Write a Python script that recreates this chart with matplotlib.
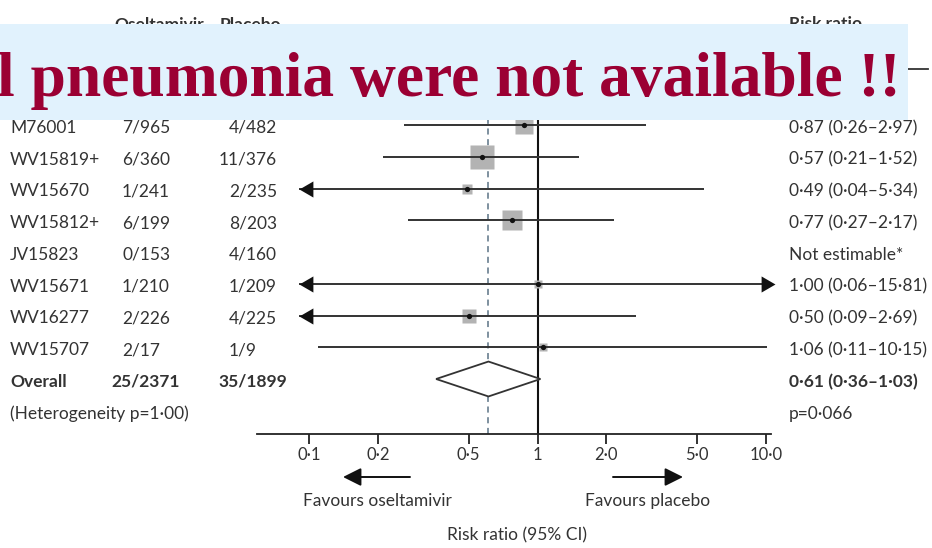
import numpy as np
import matplotlib.pyplot as plt
import matplotlib.transforms as mtransforms
from matplotlib.patches import Rectangle, Polygon, FancyArrowPatch
from matplotlib.lines import Line2D
from matplotlib.ticker import NullLocator

# %% data
studies = ["M76001", "WV15819+", "WV15670", "WV15812+", "JV15823",
           "WV15671", "WV16277", "WV15707"]
oseltamivir = ["7/965", "6/360", "1/241", "6/199", "0/153", "1/210", "2/226", "2/17"]
placebo = ["4/482", "11/376", "2/235", "8/203", "4/160", "1/209", "4/225", "1/9"]
rr = [0.87, 0.57, 0.49, 0.77, np.nan, 1.00, 0.50, 1.06]
rr_lo = [0.26, 0.21, 0.04, 0.27, np.nan, 0.06, 0.09, 0.11]
rr_hi = [2.97, 1.52, 5.34, 2.17, np.nan, 15.81, 2.69, 10.15]
weights = [18.3, 32.5, 6.8, 22.5, 0.0, 3.6, 12.7, 3.6]  # % weight

overall_osel = "25/2371"
overall_plac = "35/1899"
overall_rr, overall_lo, overall_hi = 0.61, 0.36, 1.03
heterogeneity = "(Heterogeneity p=1·00)"
overall_p = "p=0·066"
not_estimable = "Not estimable*"

ticks = [0.1, 0.2, 0.5, 1, 2, 5, 10]
tick_labels = ["0·1", "0·2", "0·5", "1", "2·0", "5·0", "10·0"]

banner_text = "l pneumonia were not available !!"

# %% layout helpers (figure pixels, origin top-left)
DPI = 100
W, H = 932, 548
ROW0, ROWDY = 125, 31.75


def fx(px):
    return px / W


def fy(px):
    return 1 - px / H


def row_of(px):
    return (px - ROW0) / ROWDY


def dot(v):
    return f"{v:.2f}".replace(".", "·")


plt.rcParams['font.family'] = ['Lato', 'DejaVu Sans']
TXT = '#333333'
FS = 12.5
LCLIP, RCLIP = 0.09, 10.95

# arrow heads with the tip at the marker origin
HEAD_L = [(0, 0), (1, 0.58), (1, -0.58), (0, 0)]
HEAD_R = [(0, 0), (-1, 0.58), (-1, -0.58), (0, 0)]

fig = plt.figure(figsize=(W / DPI, H / DPI), dpi=DPI)
renderer = fig.canvas.get_renderer()
ax = fig.add_axes([fx(257), fy(434), fx(771) - fx(257), fy(70) - fy(434)])
ax.set_xscale('log')
ax.set_xlim(10 ** (-1 - 52 / 228.5), 10 ** (-1 + 462 / 228.5))
ax.set_ylim(row_of(434), row_of(70))
for s in ('top', 'left', 'right'):
    ax.spines[s].set_visible(False)
ax.spines['bottom'].set_linewidth(1.3)
ax.spines['bottom'].set_color('#222222')
ax.set_yticks([])
ax.set_xticks(ticks)
ax.set_xticklabels(tick_labels)
ax.xaxis.set_minor_locator(NullLocator())
ax.tick_params(axis='x', direction='out', length=7, width=1.3, pad=2,
               labelsize=12, colors='#222222', labelcolor=TXT)
ax.patch.set_visible(False)

ax.axvline(1, color='#111111', lw=1.5, zorder=1)
ax.axvline(overall_rr, color='#5b7385', lw=1.1, ls=(0, (4, 3)), zorder=1)

for i, (r, lo, hi, w) in enumerate(zip(rr, rr_lo, rr_hi, weights)):
    if np.isnan(r):
        continue
    side = 4.2 * np.sqrt(w) * 0.72
    ax.plot(r, i, marker='s', ms=side, color='#b3b3b3', mec='none', zorder=2)
    x0, x1 = max(lo, LCLIP), min(hi, RCLIP)
    ax.plot([x0, x1], [i, i], color='#333333', lw=1.4, zorder=3, solid_capstyle='butt')
    if lo <= LCLIP:
        ax.plot(LCLIP, i, marker=HEAD_L, ms=20, color='#111111', mec='none',
                zorder=4, clip_on=False)
    if hi >= RCLIP:
        ax.plot(RCLIP, i, marker=HEAD_R, ms=20, color='#111111', mec='none',
                zorder=4, clip_on=False)
    ax.plot(r, i, 'o', ms=3.8, color='#111111', mec='none', zorder=4)

n = len(studies)
diamond = Polygon([(overall_lo, n), (overall_rr, n - 0.55), (overall_hi, n),
                   (overall_rr, n + 0.55)], closed=True, facecolor='white',
                  edgecolor='#333333', lw=1.3, zorder=3)
ax.add_patch(diamond)

# %% table text
blend = mtransforms.blended_transform_factory(fig.transFigure, ax.transData)
OSL_X, PLA_X, NAME_X, RR_X = 132, 239, 10, 789


def frac_text(x, y, s, **kw):
    # align the counts on the slash
    num = s.split('/')[0]
    probe = ax.text(0, 0, num, **kw)
    wpx = probe.get_window_extent(renderer).width
    probe.remove()
    ax.text(fx(x - wpx), y, s, ha='left', **kw)


base = dict(transform=blend, va='baseline', fontsize=FS, color=TXT)
for i in range(n):
    y = i + 0.25
    ax.text(fx(NAME_X), y, studies[i], **base)
    frac_text(OSL_X, y, oseltamivir[i], **base)
    frac_text(PLA_X, y, placebo[i], **base)
    if np.isnan(rr[i]):
        label = not_estimable
    else:
        label = f"{dot(rr[i])} ({dot(rr_lo[i])}–{dot(rr_hi[i])})"
    ax.text(fx(RR_X), y, label, **base)

bold = dict(base, fontweight='bold')
y = n + 0.25
ax.text(fx(NAME_X), y, "Overall", **bold)
frac_text(OSL_X, y, overall_osel, **bold)
frac_text(PLA_X, y, overall_plac, **bold)
ax.text(fx(RR_X), y, f"{dot(overall_rr)} ({dot(overall_lo)}–{dot(overall_hi)})", **bold)
ax.text(fx(NAME_X), n + 1.25, heterogeneity, **base)
ax.text(fx(RR_X), n + 1.25, overall_p, **base)

# headers (mostly hidden under the banner)
fig.text(fx(114), fy(30), "Oseltamivir", fontsize=FS, fontweight='bold', color=TXT)
fig.text(fx(220), fy(30), "Placebo", fontsize=FS, fontweight='bold', color=TXT)
fig.text(fx(789), fy(29), "Risk ratio", fontsize=FS, fontweight='bold', color=TXT)
fig.add_artist(Line2D([fx(10), fx(928)], [fy(69), fy(69)], color='#333333', lw=1.3))

# favours arrows and axis title
fav_kw = dict(arrowstyle='-|>,head_length=1.1,head_width=0.55', color='#111111',
              lw=1.4, shrinkA=0, shrinkB=0, mutation_scale=10)
fig.add_artist(FancyArrowPatch((fx(410), fy(477)), (fx(343), fy(477)),
                               transform=fig.transFigure, **fav_kw))
fig.add_artist(FancyArrowPatch((fx(613), fy(477)), (fx(683), fy(477)),
                               transform=fig.transFigure, **fav_kw))
fig.text(fx(377), fy(506), "Favours oseltamivir", ha='center', va='baseline',
         fontsize=FS, color=TXT)
fig.text(fx(648), fy(506), "Favours placebo", ha='center', va='baseline',
         fontsize=FS, color=TXT)
fig.text(fx(517), fy(540), "Risk ratio (95% CI)", ha='center', va='baseline',
         fontsize=FS, color=TXT)

# overlay banner
fig.add_artist(Rectangle((0, fy(120)), fx(908), fy(24) - fy(120), transform=fig.transFigure,
                         facecolor='#e1f2fd', edgecolor='none', zorder=10))
fig.text(fx(901), fy(96), banner_text, ha='right', va='baseline', fontsize=45.7,
         fontweight='bold', family=['Liberation Serif', 'DejaVu Serif'],
         color='#9b0033', zorder=11)

fig.savefig('out.png', dpi=DPI, facecolor='white')
